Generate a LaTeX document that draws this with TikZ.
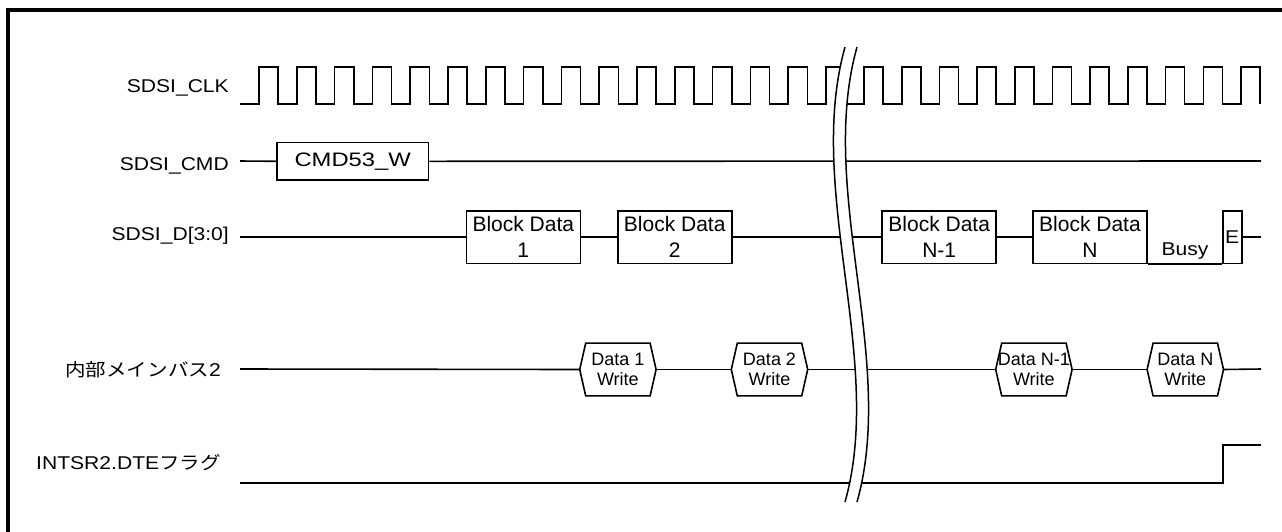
\documentclass[tikz,border=0pt]{standalone}
\usepackage{fontspec}
\setmainfont{Liberation Sans}
\newfontfamily\lblf{Liberation Sans}[FakeStretch=1.14]
\newfontfamily\jpf{Noto Sans CJK JP}[FakeStretch=1.14]
\newfontfamily\cmdf{Liberation Sans}[FakeStretch=1.22]
\begin{document}
\begin{tikzpicture}[x=1pt,y=-1pt,
  sig/.style={line width=1.6pt},
  lab/.style={anchor=base east, inner sep=0pt, font=\lblf\fontsize{18.5}{22}\selectfont},
  blk/.style={draw, line width=1.6pt, minimum width=114pt, minimum height=52.6pt, inner sep=0pt, align=center, font=\fontsize{21}{26}\selectfont},
  hexl/.style={minimum width=76pt, minimum height=52.4pt, inner sep=0pt, align=center, font=\fontsize{18}{20}\selectfont},
  txt/.style={inner sep=0pt, font=\lblf\fontsize{18.5}{22}\selectfont}]
\useasboundingbox (0,0) rectangle (1282,531);
% frame
\draw[line width=3.5pt] (8,535) -- (8,10) -- (1286,10);

% labels
\node[lab] (lclk) at (229,92) {SDSI\_CLK};
\node[lab] (lcmd) at (229,170) {SDSI\_CMD};
\node[lab] (ld) at (229,240) {SDSI\_D[3:0]};
\node[lab] (lbus) at (221,376) {\jpf\fontsize{18}{22}\selectfont 内部メインバス\lblf\fontsize{18.5}{22}\selectfont 2};
\node[lab] (lflag) at (221,469) {INTSR2.DTE\jpf\fontsize{18}{22}\selectfont フラグ};

% clock
\draw[sig] (240,104) \foreach \k in {0,...,14} { -- ({259+37.8*\k},104) -- ({259+37.8*\k},67) -- ({278.2+37.8*\k},67) -- ({278.2+37.8*\k},104) } -- (826,104) -- (826,67) -- (848,67);
\draw[sig] (840,104) \foreach \k in {0,...,9} { -- ({864+37.7*\k},104) -- ({864+37.7*\k},67) -- ({883+37.7*\k},67) -- ({883+37.7*\k},104) } -- (1241,104) -- (1241,67) -- (1260,67) -- (1260,104);

% CMD
\coordinate (cmdS) at (240,161);
\coordinate (cmdE) at (1261,161);
\node[draw, line width=1.6pt, minimum width=151.5pt, minimum height=37.3pt, inner sep=0pt, font=\cmdf\fontsize{19.5}{22}\selectfont] (cmd) at (352.7,161.3) {CMD53\_W};
\draw[sig] (cmdS) -- (cmd.west);
\draw[sig] (cmd.east) -- (cmdE);

% Data lines
\coordinate (dS) at (240,237);
\coordinate (dE) at (1261,237);
\node[blk] (b1) at (523.3,237) {Block Data\\1};
\node[blk] (b2) at (674.7,237) {Block Data\\2};
\node[blk] (bn1) at (939.2,237) {Block Data\\N-1};
\node[blk] (bn) at (1090,237) {Block Data\\N};
\node[draw, line width=1.6pt, minimum width=19pt, minimum height=52.6pt, inner sep=0pt, font=\lblf\fontsize{18.5}{22}\selectfont] (e) at (1232.2,237) {E};
\node[txt, anchor=base] (busy) at (1185,255.7) {Busy};
\draw[sig] (dS) -- (b1.west);
\draw[sig] (b1.east) -- (b2.west);
\draw[sig] (b2.east) -- (bn1.west);
\draw[sig] (bn1.east) -- (bn.west);
\draw[sig] (bn.south east) -- (e.south west);
\draw[sig] (e.east) -- (dE);

% internal bus
\coordinate (hS) at (240,369);
\coordinate (hE) at (1261,369);
\node[hexl] (h1) at (617.9,369.5) {Data 1\\Write};
\node[hexl] (h2) at (769.5,369.5) {Data 2\\Write};
\node[hexl] (hn1) at (1033.9,369.5) {Data N-1\\Write};
\node[hexl] (hn) at (1185.3,369.5) {Data N\\Write};
\foreach \h in {h1,h2,hn1,hn}{
  \draw[sig] (\h.west) -- ([xshift=6pt]\h.north west) -- ([xshift=-6pt]\h.north east) -- (\h.east) -- ([xshift=-6pt]\h.south east) -- ([xshift=6pt]\h.south west) -- cycle;
}
\draw[sig] (hS) -- (h1.west);
\draw[sig] (h1.east) -- (h2.west);
\draw[sig] (h2.east) -- (hn1.west);
\draw[sig] (hn1.east) -- (hn.west);
\draw[sig] (hn.east) -- (hE);

% flag
\coordinate (fS) at (240,483);
\coordinate (fR) at (1223,483);
\coordinate (fE) at (1261,445);
\draw[sig] (fS) -- (fR) |- (fE);

% break
\fill[white] (845,47) .. controls (805,190) and (885,360) .. (845,502) -- (857,502) .. controls (897,360) and (817,190) .. (857,47) -- cycle;
\draw[line width=1.5pt] (845,47) .. controls (805,190) and (885,360) .. (845,502);
\draw[line width=1.5pt] (857,47) .. controls (817,190) and (897,360) .. (857,502);
\end{tikzpicture}
\end{document}
